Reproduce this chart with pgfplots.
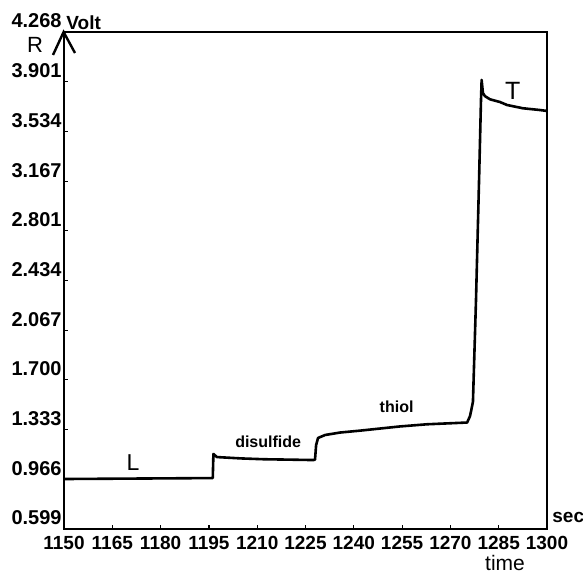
\documentclass[border=0pt]{standalone}
\usepackage{fontspec}
\setmainfont{Liberation Sans}
\usepackage{pgfplots}
\pgfplotsset{compat=1.18}
\begin{document}
\begin{tikzpicture}
\useasboundingbox (-32pt,-21.5pt) rectangle (259.5pt,264.5pt);
\begin{axis}[
  at={(0pt,0pt)}, anchor=south west,
  scale only axis, width=241.5pt, height=248.5pt,
  xmin=1150, xmax=1300, ymin=0.599, ymax=4.268,
  axis line style={line width=0.9pt},
  xtick={1150,1165,1180,1195,1210,1225,1240,1255,1270,1285,1300},
  xticklabels={1150,1165,1180,1195,1210,1225,1240,1255,1270,1285,1300},
  ytick={0.599,0.966,1.333,1.700,2.067,2.434,2.801,3.167,3.534,3.901,4.268},
  yticklabels={0.599,0.966,1.333,1.700,2.067,2.434,2.801,3.167,3.534,3.901,4.268},
  tick align=inside, major tick length=1.8pt,
  xtick pos=bottom, ytick pos=left,
  tick style={line width=0.6pt, black},
  xticklabel style={font=\fontsize{9.5}{10}\selectfont\bfseries, anchor=north, inner sep=0pt, yshift=-3.5pt},
  yticklabel style={font=\fontsize{10}{11}\selectfont\bfseries, anchor=east, inner sep=0pt, xshift=-1pt, yshift=5.5pt},
  clip=false,
]
\addplot[line width=1.3pt, line join=round, black] coordinates {
(1150,0.968) (1196.2,0.975) (1196.4,1.153) (1197.5,1.130) (1205,1.120)
(1212,1.114) (1220,1.111) (1227.3,1.108) (1227.95,1.110) (1228.3,1.219)
(1228.9,1.271) (1231.1,1.293) (1235.7,1.311) (1241.9,1.325) (1254.3,1.356)
(1262.7,1.372) (1275.2,1.385) (1276.1,1.433) (1277.0,1.537) (1277.95,2.289)
(1278.9,3.175) (1279.5,3.766) (1279.7,3.914) (1280.1,3.818) (1280.7,3.795)
(1282.3,3.771) (1285.4,3.751) (1287.6,3.729) (1292.5,3.705) (1297.8,3.692)
(1300,3.685)
};
\node[font=\fontsize{11.5}{12}\selectfont] at (axis cs:1171.4,1.086) {L};
\node[font=\fontsize{8}{9}\selectfont\bfseries] at (axis cs:1213.4,1.241) {disulfide};
\node[font=\fontsize{8}{9}\selectfont\bfseries] at (axis cs:1253.3,1.500) {thiol};
\node[font=\fontsize{12.5}{13}\selectfont] at (axis cs:1289.4,3.832) {T};
\end{axis}
\draw[line width=1.2pt, line join=miter] (-5.5pt,237pt) -- (-0.2pt,248.5pt) -- (5.5pt,238pt);
\node[font=\fontsize{11}{12}\selectfont] at (-14.5pt,242pt) {R};
\node[font=\fontsize{9.5}{10}\selectfont\bfseries, anchor=west, inner sep=0pt] at (1pt,253pt) {Volt};
\node[font=\fontsize{9.5}{10}\selectfont\bfseries, anchor=base west, inner sep=0pt] at (244pt,3pt) {sec};
\node[font=\fontsize{10.5}{11}\selectfont, anchor=base, inner sep=0pt] at (220.5pt,-20.8pt) {time};
\end{tikzpicture}
\end{document}
